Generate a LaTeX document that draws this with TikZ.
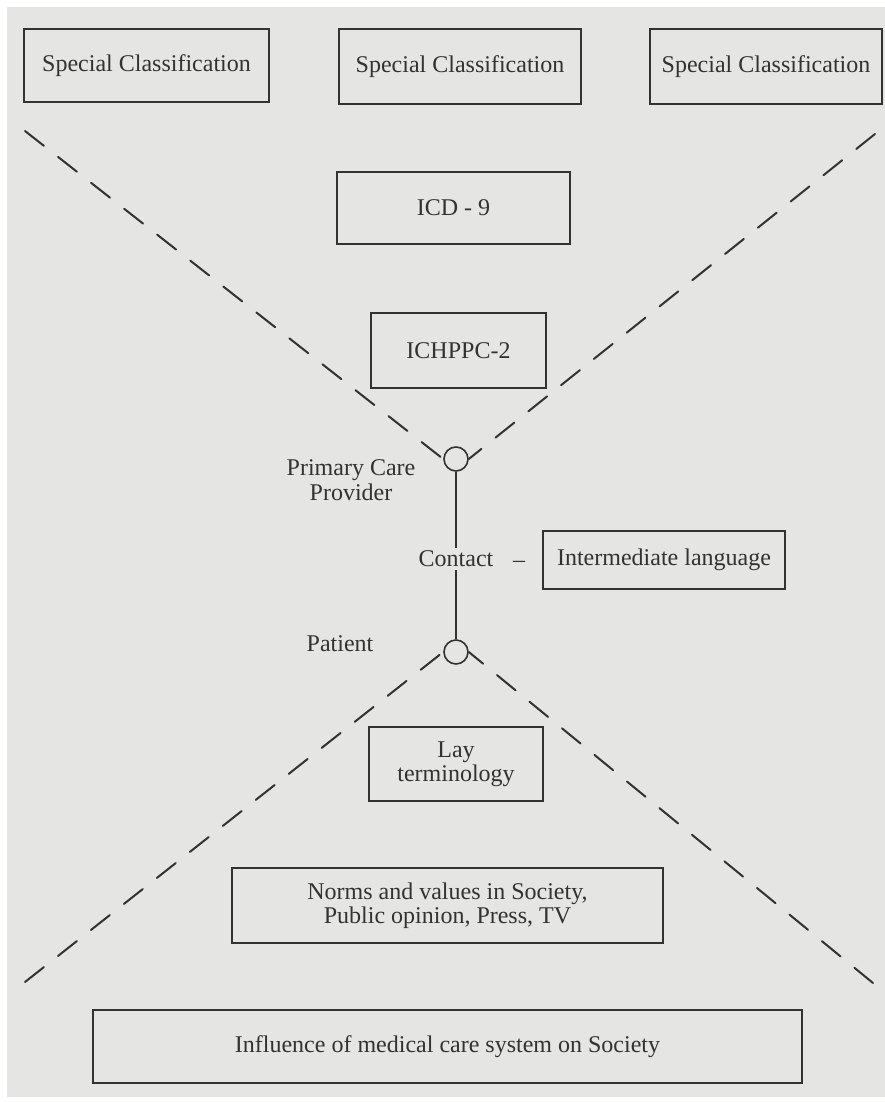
\documentclass[tikz,border=0pt]{standalone}
\usepackage{fontspec}
\setmainfont{Liberation Serif}
\definecolor{bg}{RGB}{229,229,227}
\definecolor{ink}{RGB}{50,50,50}
\begin{document}
\begin{tikzpicture}[x=1pt,y=-1pt,
  box/.style={draw=ink, line width=1.8pt, rectangle, inner sep=0pt, text=ink,
    font=\fontsize{24}{24}\selectfont, align=center},
  lbl/.style={text=ink, font=\fontsize{24}{25}\selectfont, inner sep=0pt, align=center},
  ring/.style={draw=ink, line width=1.6pt, circle, minimum size=24pt, inner sep=0pt},
  xline/.style={draw=ink, line width=2pt, dash pattern=on 24pt off 18pt, line cap=round},
  link/.style={draw=ink, line width=1.6pt}
  ]
\fill[white] (0,0) rectangle (885,1102);
\fill[bg] (7,7) rectangle (885,1097);
\useasboundingbox (0,0) rectangle (885,1102);

% boxes
\node[box, minimum width=245pt, minimum height=73pt] (sc1) at (146.5,65.5) {Special Classification};
\node[box, minimum width=242pt, minimum height=75pt] (sc2) at (460,66.5) {Special Classification};
\node[box, minimum width=232pt, minimum height=75pt] (sc3) at (766,66.5) {Special Classification};
\node[box, minimum width=233pt, minimum height=72pt] (icd) at (453.5,208) {ICD - 9};
\node[box, minimum width=175pt, minimum height=75pt] (ich) at (458.5,350.5) {ICHPPC-2};
\node[box, minimum width=242pt, minimum height=58pt] (inter) at (664,560) {Intermediate language};
\node[box, minimum width=174pt, minimum height=74pt] (lay) at (456,764) {Lay\\[0pt]terminology};
\node[box, minimum width=431pt, minimum height=75pt] (norms) at (447.5,905.5) {Norms and values in Society,\\[0pt]Public opinion, Press, TV};
\node[box, minimum width=709pt, minimum height=73pt] (infl) at (447.5,1046.5) {Influence of medical care system on Society};

% circles and labels
\node[ring] (top) at (456,459) {};
\node[ring] (bot) at (456,652) {};
\node[lbl] (pcp) at (351,480) {Primary Care\\Provider};
\node[lbl] (pat) at (340,644) {Patient};
\node[lbl, inner sep=3pt] (contact) at (456,559) {Contact};
\node[lbl, anchor=base] (dash) at (519,567) {–};

\draw[link] (top) -- (contact) -- (bot);

% dashed diagonals
\coordinate (tl) at (25,131);
\coordinate (tr) at (875,134);
\coordinate (bl) at (25,982);
\coordinate (br) at (873,983);
\draw[xline] (tl) -- (top.west);
\draw[xline] (tr) -- (top.east);
\draw[xline] (bl) -- (bot.west);
\draw[xline] (br) -- (bot.east);
\end{tikzpicture}
\end{document}
